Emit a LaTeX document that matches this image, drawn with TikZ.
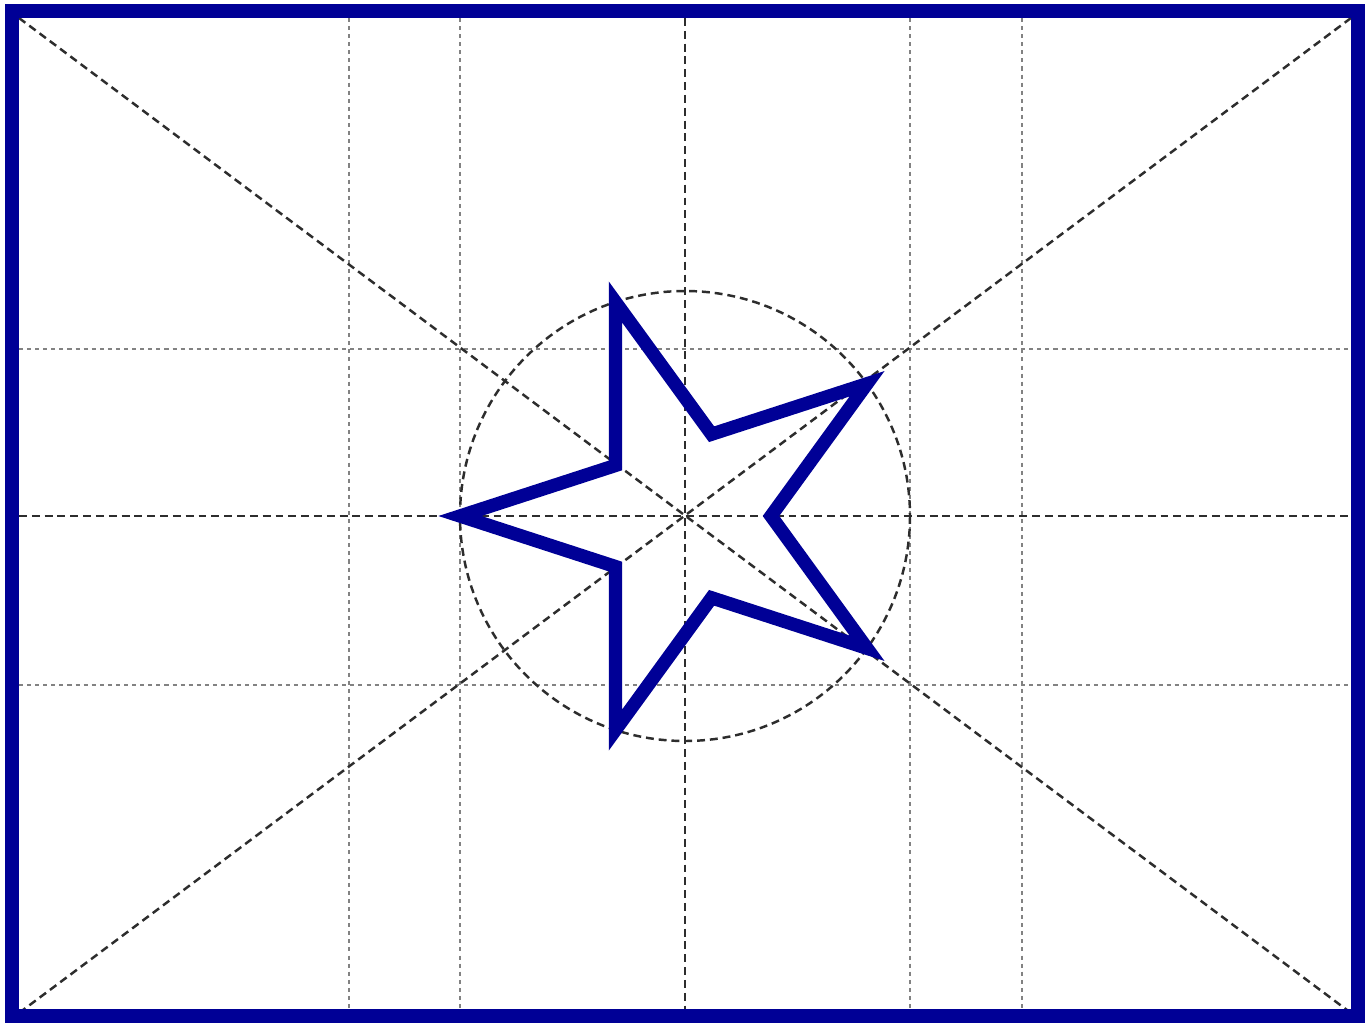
\documentclass[tikz,border=0pt]{standalone}
\begin{document}
\begin{tikzpicture}[x=0.02cm,y=-0.02cm,
  flagblue/.style={draw={rgb,255:red,0;green,0;blue,150}},
  gridline/.style={draw={rgb,255:red,130;green,130;blue,130},line width=0.9pt,dash pattern=on 2.3pt off 2.3pt},
  guideline/.style={draw={rgb,255:red,45;green,45;blue,45},line width=1.4pt,dash pattern=on 4.5pt off 2.8pt},
  starline/.style={flagblue,line width=7.6pt,miter limit=10,line join=miter},
  frameline/.style={flagblue,line width=8.4pt}]
\useasboundingbox (0,0) rectangle (1370,1025);
\fill[white] (0,0) rectangle (1370,1025);
\coordinate (C) at (685,516);
\coordinate (TL) at (19,18);
\coordinate (TR) at (1351,18);
\coordinate (BL) at (19,1013);
\coordinate (BR) at (1351,1013);
% grid
\foreach \gx in {349,460,910,1022} \draw[gridline] (\gx,18) -- (\gx,1013);
\foreach \gy in {349,685} \draw[gridline] (19,\gy) -- (1351,\gy);
% center lines
\draw[guideline] (685,18) -- (685,1013);
\draw[guideline] (19,516) -- (1351,516);
% diagonals
\draw[guideline] (TL) -- (BR);
\draw[guideline] (TR) -- (BL);
% circle
\draw[guideline] (C) circle[radius=225];
% star
\draw[starline]
  ([shift={(180:225)}]C)
  -- ([shift={(144:86)}]C)
  -- ([shift={(108:225)}]C)
  -- ([shift={(72:86)}]C)
  -- ([shift={(36:225)}]C)
  -- ([shift={(0:86)}]C)
  -- ([shift={(-36:225)}]C)
  -- ([shift={(-72:86)}]C)
  -- ([shift={(-108:225)}]C)
  -- ([shift={(-144:86)}]C)
  -- cycle;
% frame
\draw[frameline] (12,11) rectangle (1358,1016);
\end{tikzpicture}
\end{document}
